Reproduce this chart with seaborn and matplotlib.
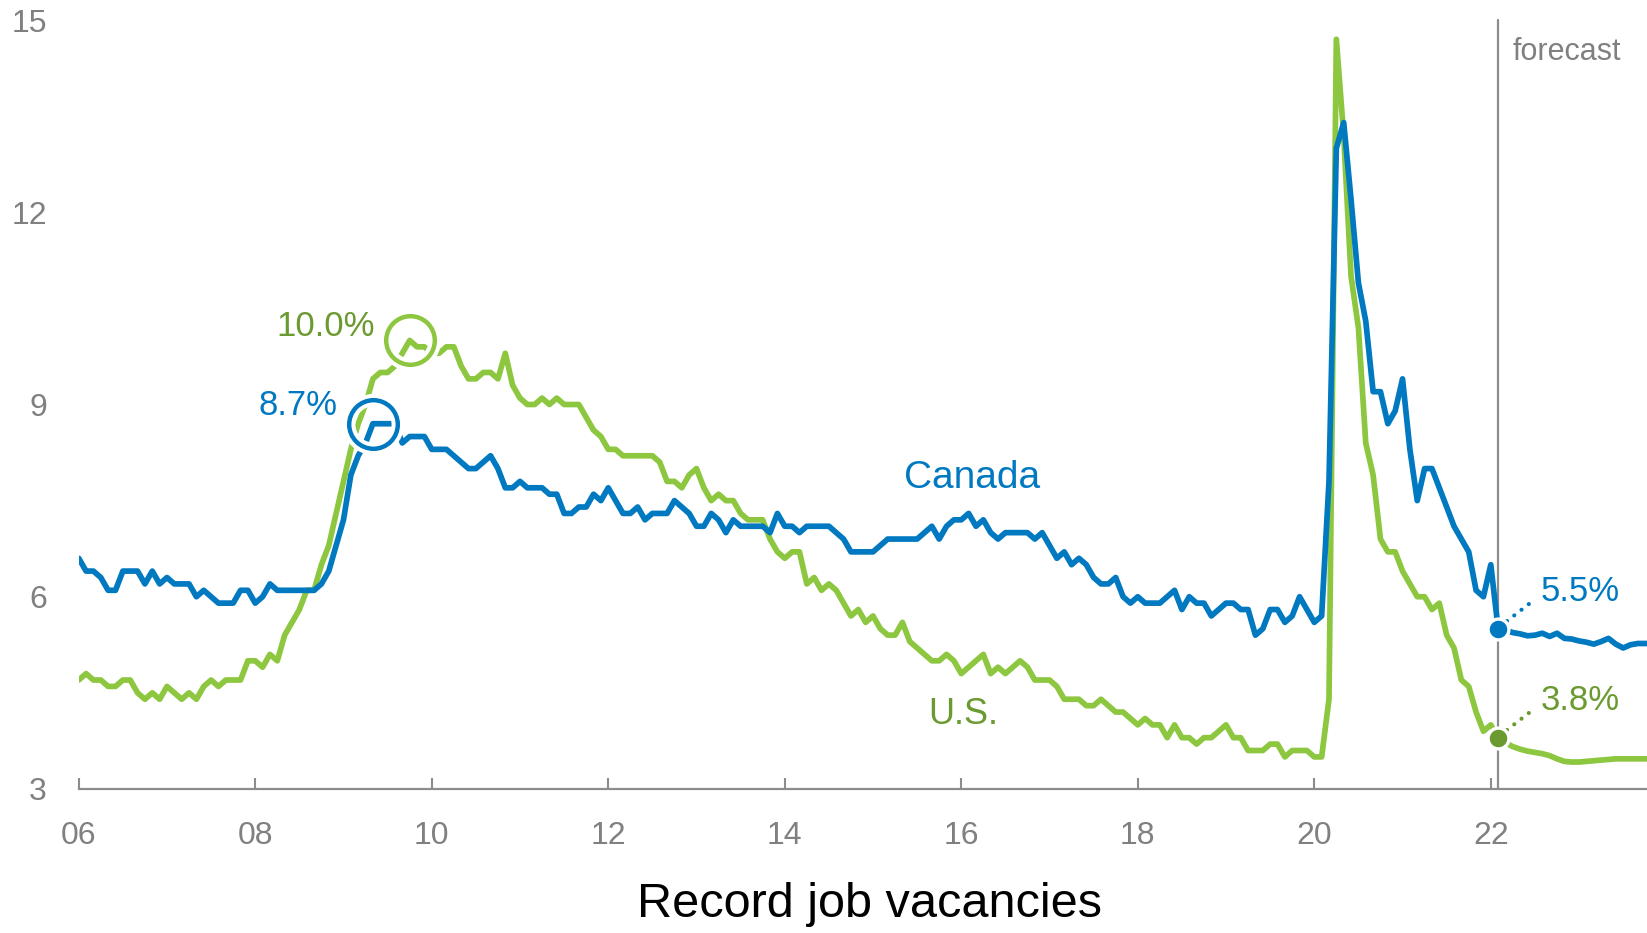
import numpy as np
import pandas as pd
import matplotlib
matplotlib.use("Agg")
import matplotlib.pyplot as plt
import seaborn as sns

# monthly unemployment rate, Jan 2006 - Feb 2022 (actual)
canada = [
    6.6, 6.4, 6.4, 6.3, 6.1, 6.1, 6.4, 6.4, 6.4, 6.2, 6.4, 6.2,
    6.3, 6.2, 6.2, 6.2, 6.0, 6.1, 6.0, 5.9, 5.9, 5.9, 6.1, 6.1,
    5.9, 6.0, 6.2, 6.1, 6.1, 6.1, 6.1, 6.1, 6.1, 6.2, 6.4, 6.8,
    7.2, 7.9, 8.2, 8.4, 8.7, 8.7, 8.7, 8.7, 8.4, 8.5, 8.5, 8.5,
    8.3, 8.3, 8.3, 8.2, 8.1, 8.0, 8.0, 8.1, 8.2, 8.0, 7.7, 7.7,
    7.8, 7.7, 7.7, 7.7, 7.6, 7.6, 7.3, 7.3, 7.4, 7.4, 7.6, 7.5,
    7.7, 7.5, 7.3, 7.3, 7.4, 7.2, 7.3, 7.3, 7.3, 7.5, 7.4, 7.3,
    7.1, 7.1, 7.3, 7.2, 7.0, 7.2, 7.1, 7.1, 7.1, 7.1, 7.0, 7.3,
    7.1, 7.1, 7.0, 7.1, 7.1, 7.1, 7.1, 7.0, 6.9, 6.7, 6.7, 6.7,
    6.7, 6.8, 6.9, 6.9, 6.9, 6.9, 6.9, 7.0, 7.1, 6.9, 7.1, 7.2,
    7.2, 7.3, 7.1, 7.2, 7.0, 6.9, 7.0, 7.0, 7.0, 7.0, 6.9, 7.0,
    6.8, 6.6, 6.7, 6.5, 6.6, 6.5, 6.3, 6.2, 6.2, 6.3, 6.0, 5.9,
    6.0, 5.9, 5.9, 5.9, 6.0, 6.1, 5.8, 6.0, 5.9, 5.9, 5.7, 5.8,
    5.9, 5.9, 5.8, 5.8, 5.4, 5.5, 5.8, 5.8, 5.6, 5.7, 6.0, 5.8,
    5.6, 5.7, 7.8, 13.0, 13.4, 12.2, 10.9, 10.3, 9.2, 9.2, 8.7, 8.9,
    9.4, 8.3, 7.5, 8.0, 8.0, 7.7, 7.4, 7.1, 6.9, 6.7, 6.1, 6.0,
    6.5, 5.5,
]
us = [
    4.7, 4.8, 4.7, 4.7, 4.6, 4.6, 4.7, 4.7, 4.5, 4.4, 4.5, 4.4,
    4.6, 4.5, 4.4, 4.5, 4.4, 4.6, 4.7, 4.6, 4.7, 4.7, 4.7, 5.0,
    5.0, 4.9, 5.1, 5.0, 5.4, 5.6, 5.8, 6.1, 6.1, 6.5, 6.8, 7.3,
    7.8, 8.3, 8.7, 9.0, 9.4, 9.5, 9.5, 9.6, 9.8, 10.0, 9.9, 9.9,
    9.8, 9.8, 9.9, 9.9, 9.6, 9.4, 9.4, 9.5, 9.5, 9.4, 9.8, 9.3,
    9.1, 9.0, 9.0, 9.1, 9.0, 9.1, 9.0, 9.0, 9.0, 8.8, 8.6, 8.5,
    8.3, 8.3, 8.2, 8.2, 8.2, 8.2, 8.2, 8.1, 7.8, 7.8, 7.7, 7.9,
    8.0, 7.7, 7.5, 7.6, 7.5, 7.5, 7.3, 7.2, 7.2, 7.2, 6.9, 6.7,
    6.6, 6.7, 6.7, 6.2, 6.3, 6.1, 6.2, 6.1, 5.9, 5.7, 5.8, 5.6,
    5.7, 5.5, 5.4, 5.4, 5.6, 5.3, 5.2, 5.1, 5.0, 5.0, 5.1, 5.0,
    4.8, 4.9, 5.0, 5.1, 4.8, 4.9, 4.8, 4.9, 5.0, 4.9, 4.7, 4.7,
    4.7, 4.6, 4.4, 4.4, 4.4, 4.3, 4.3, 4.4, 4.3, 4.2, 4.2, 4.1,
    4.0, 4.1, 4.0, 4.0, 3.8, 4.0, 3.8, 3.8, 3.7, 3.8, 3.8, 3.9,
    4.0, 3.8, 3.8, 3.6, 3.6, 3.6, 3.7, 3.7, 3.5, 3.6, 3.6, 3.6,
    3.5, 3.5, 4.4, 14.7, 13.2, 11.0, 10.2, 8.4, 7.9, 6.9, 6.7, 6.7,
    6.4, 6.2, 6.0, 6.0, 5.8, 5.9, 5.4, 5.2, 4.7, 4.6, 4.2, 3.9,
    4.0, 3.8,
]
# forecast, Mar 2022 - Dec 2023
canada_fc = [5.48, 5.44, 5.42, 5.39, 5.40, 5.43, 5.38, 5.43, 5.35, 5.34,
             5.31, 5.29, 5.26, 5.30, 5.35, 5.26, 5.20, 5.25, 5.27, 5.27,
             5.27, 5.27]
us_fc = [3.72, 3.66, 3.62, 3.59, 3.57, 3.55, 3.52, 3.47, 3.43, 3.42,
         3.42, 3.43, 3.44, 3.45, 3.46, 3.47, 3.47, 3.47, 3.47, 3.47,
         3.47, 3.47]

x_ticks = [2006, 2008, 2010, 2012, 2014, 2016, 2018, 2020, 2022]
x_labels = ["06", "08", "10", "12", "14", "16", "18", "20", "22"]
y_ticks = [3, 6, 9, 12, 15]

BLUE = "#0079c1"
GREEN = "#8dc63f"
DKGREEN = "#6b9a30"
GRAY = "#808080"

n_act = len(canada)
t_all = 2006 + np.arange(n_act + len(canada_fc)) / 12
df = pd.concat([
    pd.DataFrame({"t": t_all, "rate": canada + canada_fc, "country": "Canada"}),
    pd.DataFrame({"t": t_all, "rate": us + us_fc, "country": "U.S."}),
])

sns.set_theme(style="white")
plt.rcParams["font.family"] = ["Liberation Sans", "DejaVu Sans"]

fig = plt.figure(figsize=(16.47, 9.33), dpi=100)
ax = fig.add_axes([0.0478, 0.1544, 0.9522, 0.8241])

sns.lineplot(data=df, x="t", y="rate", hue="country", hue_order=["U.S.", "Canada"],
             palette={"Canada": BLUE, "U.S.": GREEN}, linewidth=4.1, legend=False,
             ax=ax, solid_joinstyle="round", solid_capstyle="round")

ax.set_xlim(2006, 2023.77)
ax.set_ylim(3, 15)
ax.set_xticks(x_ticks)
ax.set_xticklabels(x_labels)
ax.set_yticks(y_ticks)
ax.set_xlabel("")
ax.set_ylabel("")
for s in ["left", "right", "top"]:
    ax.spines[s].set_visible(False)
ax.spines["bottom"].set_color("#8c8c8c")
ax.spines["bottom"].set_linewidth(1.6)
ax.tick_params(axis="x", direction="in", length=8, width=1.5, color="#8c8c8c",
               pad=23, labelsize=23, labelcolor=GRAY, bottom=True)
ax.tick_params(axis="y", length=0, pad=23, labelsize=23, labelcolor=GRAY)

# forecast divider at last actual month
t_last = t_all[n_act - 1]
ax.plot([t_last, t_last], [3, 15], color="#8c8c8c", lw=1.6, zorder=1, clip_on=False)
ax.text(t_last + 0.16, 14.5, "forecast", color=GRAY, fontsize=22, va="center", ha="left")

# peak circles (2009 recession)
win = slice(36, 60)
for vals, col, tcol, dx, dy in [(canada, BLUE, BLUE, -0.4, 0.28), (us, GREEN, DKGREEN, -0.4, 0.22)]:
    seg = np.array(vals[win])
    i = 36 + int(np.argmax(seg))
    tx, vy = t_all[i], vals[i]
    ax.plot(tx, vy, "o", ms=35, mfc="none", mec="white", mew=9, zorder=5)
    ax.plot(tx, vy, "o", ms=35, mfc="none", mec=col, mew=3.2, zorder=6)
    ax.text(tx + dx, vy + dy, f"{vy:.1f}%", color=tcol, fontsize=25, ha="right", va="center")

# last actual points with leader to label
for vals, col, dcol in [(canada, BLUE, BLUE), (us, GREEN, DKGREEN)]:
    vy = vals[-1]
    ax.plot([t_last + 0.1, t_last + 0.38], [vy + 0.12, vy + 0.42], color=dcol, lw=3,
            ls=(0, (0.01, 2.2)), dash_capstyle="round", zorder=6)
    ax.plot(t_last, vy, "o", ms=15, mfc=dcol, mec="white", mew=2.4, zorder=7)
    ax.text(t_last + 0.48, vy + 0.58, f"{vy:.1f}%", color=dcol, fontsize=25, ha="left", va="center")

ax.text(2015.35, 7.85, "Canada", color=BLUE, fontsize=28, ha="left", va="center")
ax.text(2015.63, 4.16, "U.S.", color=DKGREEN, fontsize=26, ha="left", va="center")

fig.text(0.528, 0.031, "Record job vacancies", color="black", fontsize=35, ha="center", va="center")

fig.savefig("out.png", dpi=100)
